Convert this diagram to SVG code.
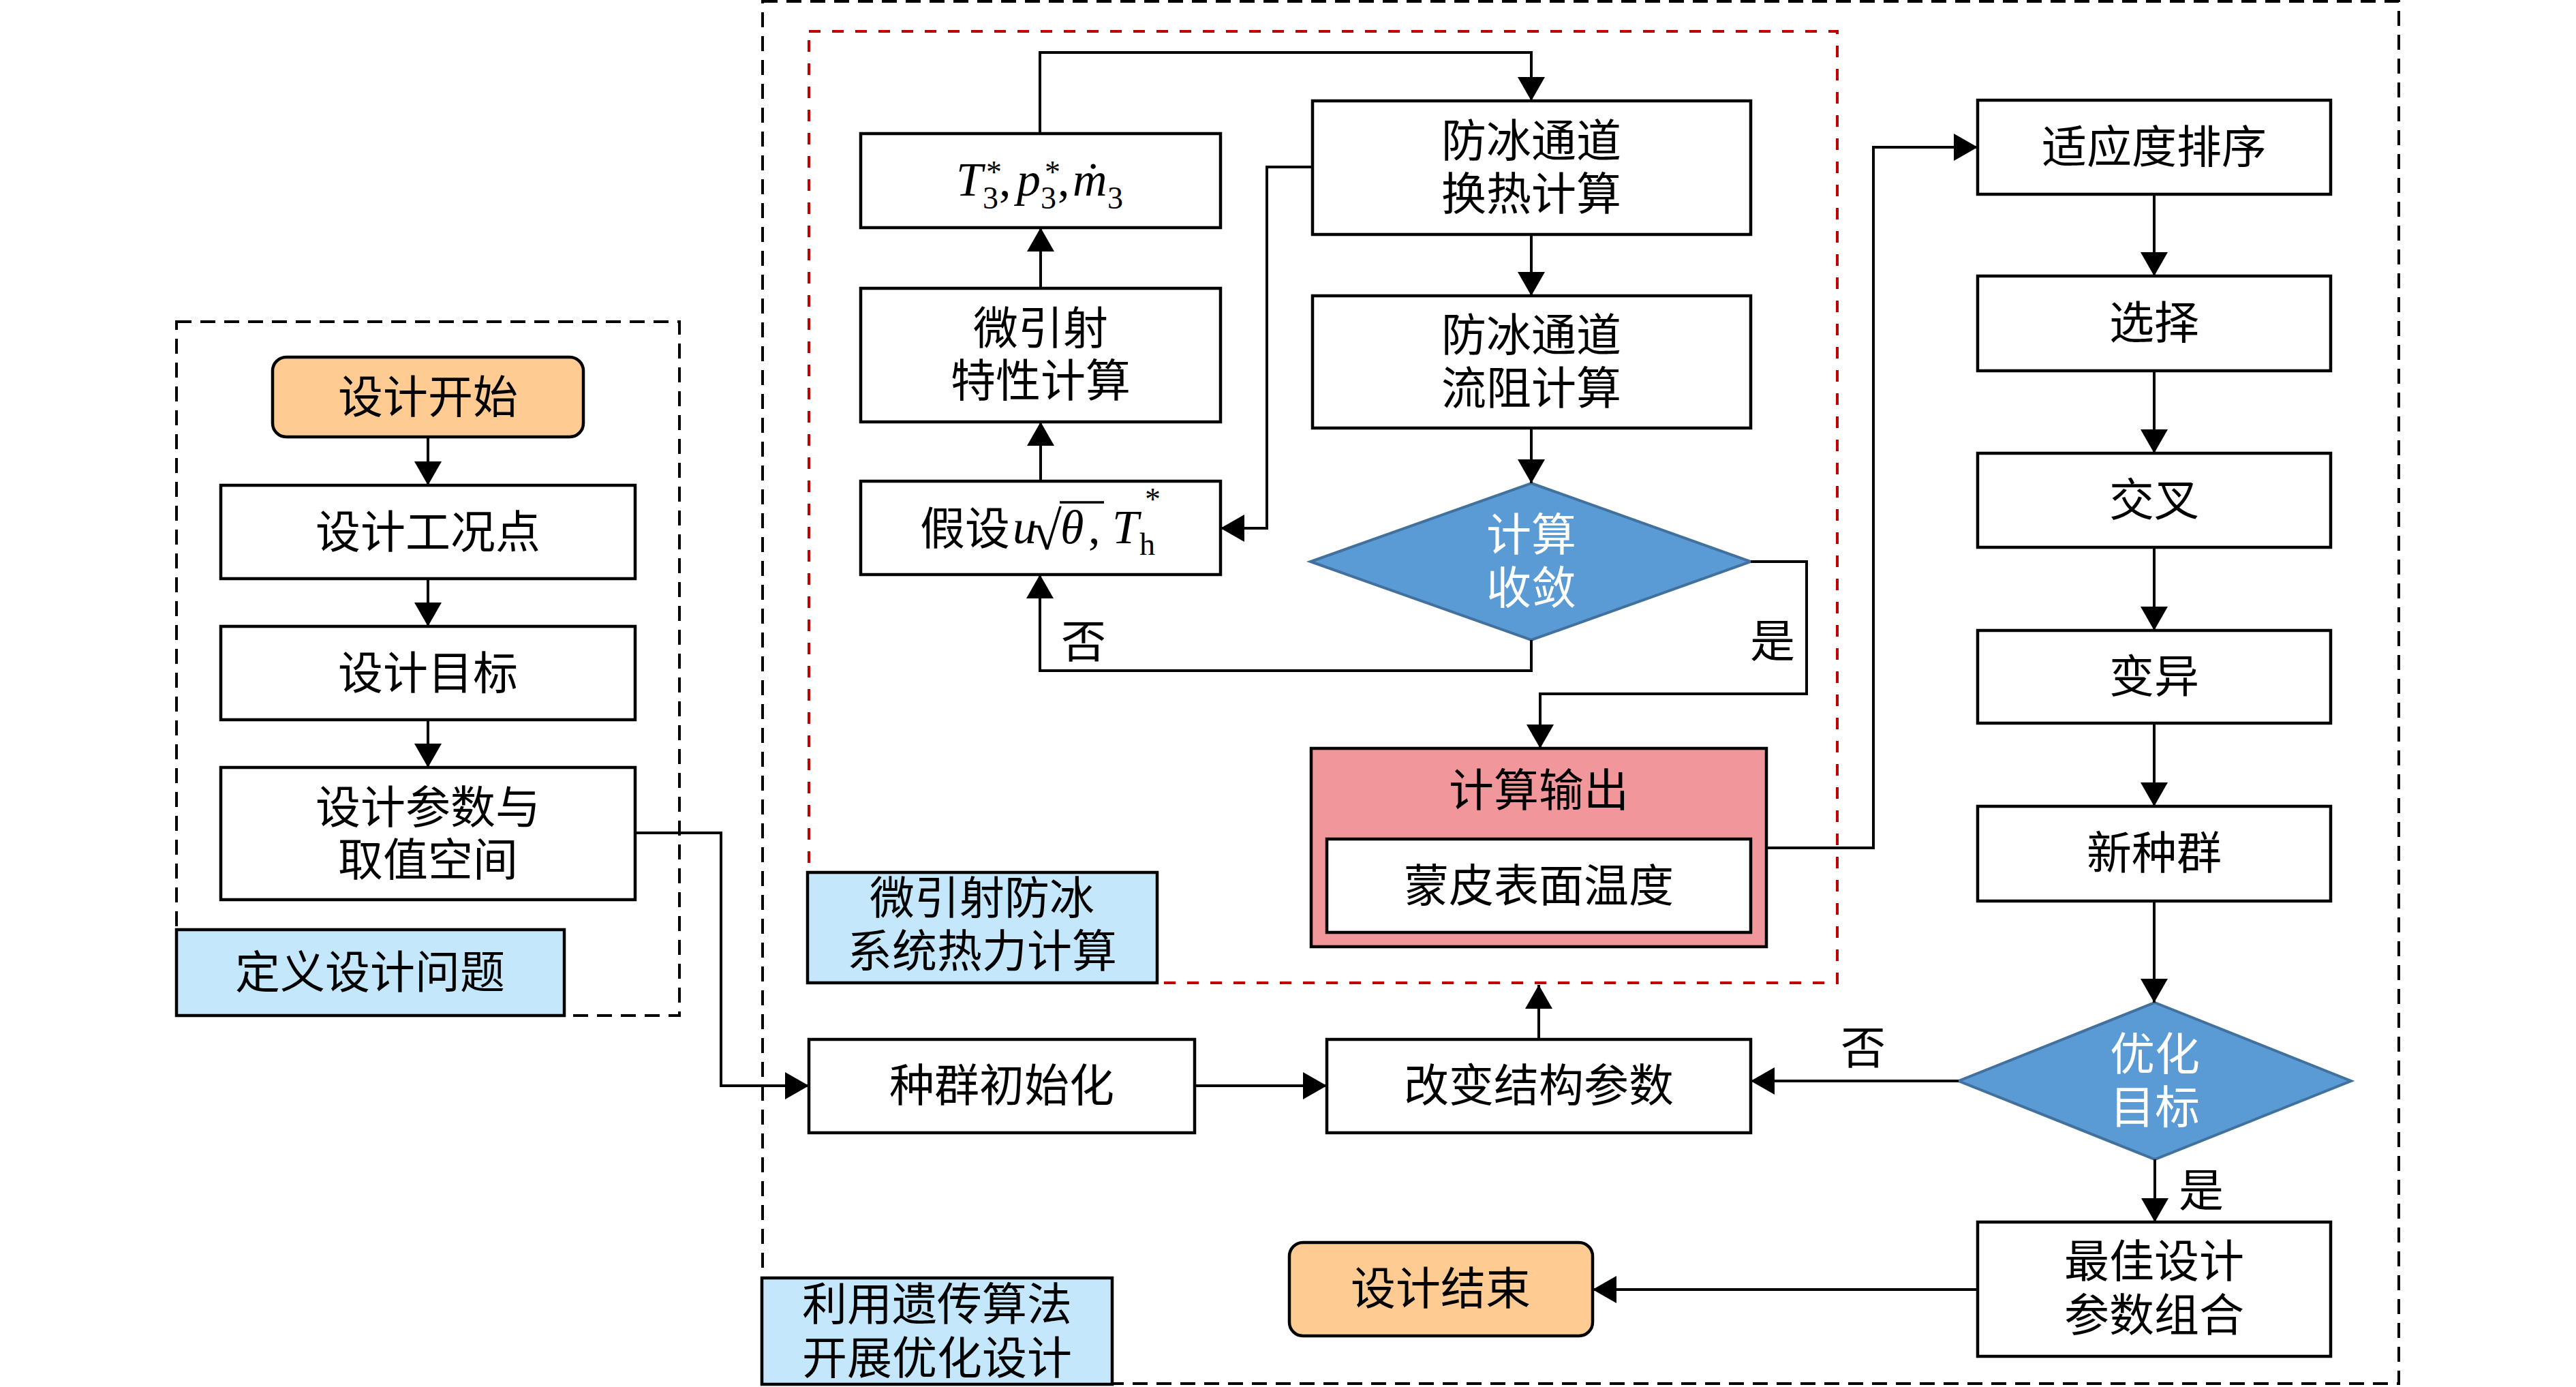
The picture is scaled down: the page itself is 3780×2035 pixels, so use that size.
<svg xmlns="http://www.w3.org/2000/svg" width="3780" height="2035" viewBox="0 0 3780 2035">
<defs>
<style>
.bg{fill:#ffffff}
.box{fill:#ffffff;stroke:#000;stroke-width:4.5}
.start{fill:#FECC93;stroke:#000;stroke-width:4.5}
.label{fill:#C4E7FB;stroke:#000;stroke-width:4.5}
.pink{fill:#F1979B;stroke:#000;stroke-width:4.5}
.dia{fill:#5B9BD5;stroke:#41719C;stroke-width:4}
.frame{fill:none;stroke:#000;stroke-width:4;stroke-dasharray:22 13}
.red{fill:none;stroke:#C00000;stroke-width:4;stroke-dasharray:17 17}
.t{font-family:"Noto Sans CJK SC","Noto Sans CJK JP",sans-serif;font-size:66px;text-anchor:middle;dominant-baseline:central;fill:#000}
.ts{font-family:"Noto Sans CJK SC","Noto Sans CJK JP",sans-serif;font-size:66px;dominant-baseline:central;fill:#000}
.w{fill:#ffffff}
.mr{font-family:"Liberation Serif","Times New Roman",serif;font-size:70px;fill:#000}
.i{font-style:italic}
.s{font-size:46px}
.conn path{fill:none;stroke:#000;stroke-width:4;marker-end:url(#arr)}
</style>
<marker id="arr" markerUnits="userSpaceOnUse" markerWidth="40" markerHeight="40" viewBox="0 0 35 40" refX="35" refY="20" orient="auto">
<path d="M0,0 L35,20 L0,40 Z" fill="#000"/>
</marker>
</defs>
<rect class="bg" x="0" y="0" width="3780" height="2035"/>

<g id="frames">
<rect class="frame" x="1119" y="2" width="2401" height="2028"/>
<rect class="frame" x="259" y="472" width="738" height="1018"/>
<rect class="red" x="1187" y="46" width="1509" height="1396"/>
</g>

<g id="label-define">
<rect class="label" x="259" y="1364" width="569" height="126"/>
<text class="t" x="543" y="1421">定义设计问题</text>
</g>
<g id="label-thermal">
<rect class="label" x="1185" y="1280" width="513" height="162"/>
<text class="t" x="1441" y="1312">微引射防冰</text>
<text class="t" x="1441" y="1390">系统热力计算</text>
</g>
<g id="label-ga">
<rect class="label" x="1118" y="1875" width="514" height="156"/>
<text class="t" x="1375" y="1908">利用遗传算法</text>
<text class="t" x="1375" y="1987">开展优化设计</text>
</g>

<g id="n-start">
<rect class="start" x="400" y="524" width="456" height="117" rx="20"/>
<text class="t" x="628" y="577">设计开始</text>
</g>
<g id="n-condition">
<rect class="box" x="324" y="712" width="608" height="137"/>
<text class="t" x="628" y="775">设计工况点</text>
</g>
<g id="n-target">
<rect class="box" x="324" y="919" width="608" height="137"/>
<text class="t" x="628" y="982">设计目标</text>
</g>
<g id="n-params">
<rect class="box" x="324" y="1126" width="608" height="194"/>
<text class="t" x="628" y="1179">设计参数与</text>
<text class="t" x="628" y="1256">取值空间</text>
</g>

<g id="n-t3">
<rect class="box" x="1263" y="196" width="528" height="138"/>
<text class="mr"><tspan class="i" x="1403" y="287">T</tspan><tspan class="s" x="1442" y="306">3</tspan><tspan class="s" x="1447" y="268">*</tspan><tspan x="1466" y="287">,</tspan><tspan class="i" x="1492" y="287">p</tspan><tspan class="s" x="1527" y="306">3</tspan><tspan class="s" x="1533" y="268">*</tspan><tspan x="1552" y="287">,</tspan><tspan class="i" x="1574" y="287">ṁ</tspan><tspan class="s" x="1625" y="306">3</tspan></text>
</g>
<g id="n-ejector">
<rect class="box" x="1263" y="423" width="528" height="196"/>
<text class="t" x="1527" y="476">微引射</text>
<text class="t" x="1527" y="553">特性计算</text>
</g>
<g id="n-assume">
<rect class="box" x="1263" y="706" width="528" height="137"/>
<text class="ts" x="1350" y="770">假设</text>
<text class="mr"><tspan class="i" x="1486" y="797">u</tspan><tspan x="1514" y="806" style="font-size:80px">√</tspan><tspan class="i" x="1556" y="797">θ</tspan><tspan x="1597" y="797">,</tspan><tspan class="i" x="1632" y="797">T</tspan><tspan class="s" x="1672" y="814">h</tspan><tspan class="s" x="1680" y="748">*</tspan></text>
<line x1="1555" y1="737" x2="1620" y2="737" stroke="#000" stroke-width="3.5"/>
</g>
<g id="n-heat">
<rect class="box" x="1926" y="148" width="643" height="196"/>
<text class="t" x="2247" y="201">防冰通道</text>
<text class="t" x="2247" y="279">换热计算</text>
</g>
<g id="n-flow">
<rect class="box" x="1926" y="434" width="643" height="194"/>
<text class="t" x="2247" y="486">防冰通道</text>
<text class="t" x="2247" y="564">流阻计算</text>
</g>
<g id="n-converge">
<polygon class="dia" points="2247,709 2569,824 2247,939 1923,824"/>
<text class="t w" x="2247" y="779">计算</text>
<text class="t w" x="2247" y="857">收敛</text>
</g>
<g id="n-output">
<rect class="pink" x="1924" y="1098" width="668" height="291"/>
<text class="t" x="2258" y="1154">计算输出</text>
<rect class="box" x="1947" y="1231" width="622" height="137"/>
<text class="t" x="2258" y="1294">蒙皮表面温度</text>
</g>
<g id="n-init">
<rect class="box" x="1187" y="1525" width="566" height="137"/>
<text class="t" x="1470" y="1587">种群初始化</text>
</g>
<g id="n-change">
<rect class="box" x="1947" y="1525" width="622" height="137"/>
<text class="t" x="2258" y="1587">改变结构参数</text>
</g>
<g id="n-end">
<rect class="start" x="1892" y="1823" width="445" height="137" rx="20"/>
<text class="t" x="2114" y="1885">设计结束</text>
</g>
<g id="n-fitness">
<rect class="box" x="2902" y="147" width="518" height="138"/>
<text class="t" x="3161" y="210">适应度排序</text>
</g>
<g id="n-select">
<rect class="box" x="2902" y="405" width="518" height="139"/>
<text class="t" x="3161" y="468">选择</text>
</g>
<g id="n-cross">
<rect class="box" x="2902" y="665" width="518" height="138"/>
<text class="t" x="3161" y="728">交叉</text>
</g>
<g id="n-mutate">
<rect class="box" x="2902" y="925" width="518" height="136"/>
<text class="t" x="3161" y="987">变异</text>
</g>
<g id="n-newpop">
<rect class="box" x="2902" y="1183" width="518" height="139"/>
<text class="t" x="3161" y="1246">新种群</text>
</g>
<g id="n-objective">
<polygon class="dia" points="3162,1471 3450,1586 3162,1701 2874,1586"/>
<text class="t w" x="3162" y="1541">优化</text>
<text class="t w" x="3162" y="1619">目标</text>
</g>
<g id="n-best">
<rect class="box" x="2902" y="1793" width="518" height="197"/>
<text class="t" x="3161" y="1845">最佳设计</text>
<text class="t" x="3161" y="1924">参数组合</text>
</g>

<g id="connectors" class="conn">
<path d="M628,641 L628,712"/>
<path d="M628,849 L628,919"/>
<path d="M628,1056 L628,1126"/>
<path d="M932,1222 L1058,1222 L1058,1593 L1187,1593"/>
<path d="M1753,1593 L1947,1593"/>
<path d="M2258,1525 L2258,1445"/>
<path d="M1527,706 L1527,619"/>
<path d="M1527,423 L1527,334"/>
<path d="M1526,196 L1526,77 L2247,77 L2247,148"/>
<path d="M2247,344 L2247,434"/>
<path d="M2247,628 L2247,709"/>
<path d="M1926,245 L1859,245 L1859,775 L1791,775"/>
<path d="M2247,939 L2247,984 L1526,984 L1526,843"/>
<path d="M2569,824 L2651,824 L2651,1018 L2260,1018 L2260,1098"/>
<path d="M2592,1244 L2749,1244 L2749,216 L2902,216"/>
<path d="M3161,285 L3161,405"/>
<path d="M3161,544 L3161,665"/>
<path d="M3161,803 L3161,925"/>
<path d="M3161,1061 L3161,1183"/>
<path d="M3161,1322 L3161,1471"/>
<path d="M2874,1586 L2569,1586"/>
<path d="M3162,1701 L3162,1793"/>
<path d="M2902,1892 L2337,1892"/>
</g>

<g id="edge-labels">
<text class="t" x="1590" y="936">否</text>
<text class="t" x="2601" y="935">是</text>
<text class="t" x="2734" y="1532">否</text>
<text class="t" x="3230" y="1741">是</text>
</g>
</svg>
